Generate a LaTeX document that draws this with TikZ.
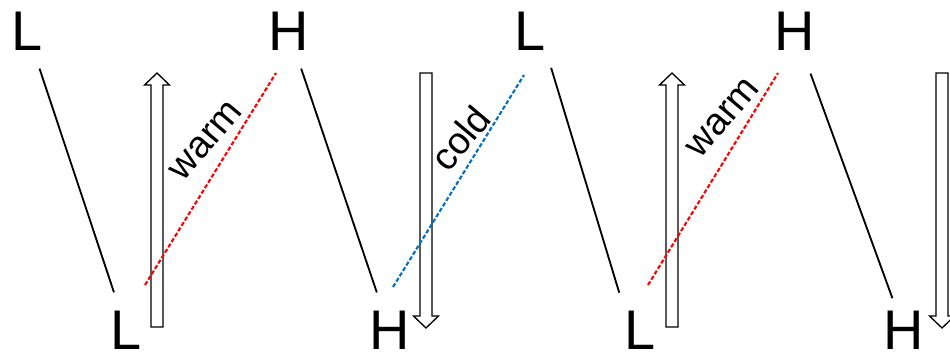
\documentclass[tikz,border=0pt]{standalone}
\usepackage{fontspec}
\setmainfont{Liberation Sans}
\usepackage{xcolor}
\usepackage{tikz}
\usetikzlibrary{calc}
\definecolor{warmred}{RGB}{255, 0, 0}
\definecolor{coldblue}{RGB}{0, 112, 192}

\begin{document}
\begin{tikzpicture}[
    level/.style={font=\fontsize{31.8}{36}\selectfont, inner sep=0pt},
    trend/.style={line width=1.05pt},
    front/.style={line width=1.2pt, dash pattern=on 2.4pt off 1.2pt},
    tag/.style={font=\fontsize{21.5}{24}\selectfont, inner sep=0pt, rotate=50},
    flow/.style={draw=black, fill=white, line width=0.75pt}
]
        \useasboundingbox (0,0) rectangle (19,7.06);

        % Levels along the top
        \node[level] (tl1) at (0.54, 6.44) {L};
        \node[level] (th1) at (5.77, 6.44) {H};
        \node[level] (tl2) at (10.60, 6.44) {L};
        \node[level] (th2) at (15.90, 6.44) {H};

        % Levels along the bottom
        \node[level] (bl1) at (2.53, 0.46) {L};
        \node[level] (bh1) at (7.79, 0.46) {H};
        \node[level] (bl2) at (12.81, 0.46) {L};
        \node[level] (bh2) at (18.08, 0.46) {H};

        % Slanted trend lines
        \draw[trend, shorten <=0.38cm, shorten >=0.38cm] (tl1) -- (bl1);
        \draw[trend, shorten <=0.38cm, shorten >=0.38cm] (th1) -- (bh1);
        \draw[trend, shorten <=0.36cm, shorten >=0.37cm] (tl2.south east) -- (bl2.north west);
        \draw[trend, shorten <=0.49cm, shorten >=0.26cm] (th2) -- (bh2);

        % Block arrows (up, down, up, down)
        \draw[flow] (3.02, 0.52) -- (3.26, 0.52) -- (3.26, 5.36) -- (3.39, 5.36) -- (3.14, 5.60)
            -- (2.89, 5.36) -- (3.02, 5.36) -- cycle;
        \draw[flow] (8.40, 5.60) -- (8.64, 5.60) -- (8.64, 0.74) -- (8.77, 0.74) -- (8.52, 0.50)
            -- (8.27, 0.74) -- (8.40, 0.74) -- cycle;
        \draw[flow] (13.32, 0.52) -- (13.56, 0.52) -- (13.56, 5.36) -- (13.69, 5.36) -- (13.44, 5.60)
            -- (13.19, 5.36) -- (13.32, 5.36) -- cycle;
        \draw[flow] (18.72, 5.60) -- (18.96, 5.60) -- (18.96, 0.74) -- (19.09, 0.74) -- (18.84, 0.50)
            -- (18.59, 0.74) -- (18.72, 0.74) -- cycle;

        % Warm and cold fronts
        \coordinate (w1a) at (2.90, 1.36);
        \coordinate (w1b) at (5.52, 5.60);
        \coordinate (c1a) at (7.86, 1.32);
        \coordinate (c1b) at (10.48, 5.56);
        \coordinate (w2a) at (12.96, 1.36);
        \coordinate (w2b) at (15.56, 5.60);
        \draw[front, color=warmred] (w1a) -- (w1b);
        \draw[front, color=coldblue] (c1a) -- (c1b);
        \draw[front, color=warmred] (w2a) -- (w2b);

        \node[tag] (warm1) at (4.12, 4.24) {warm};
        \node[tag] (cold1) at (9.20, 4.30) {cold};
        \node[tag] (warm2) at (14.46, 4.70) {warm};
    \end{tikzpicture}
\end{document}
